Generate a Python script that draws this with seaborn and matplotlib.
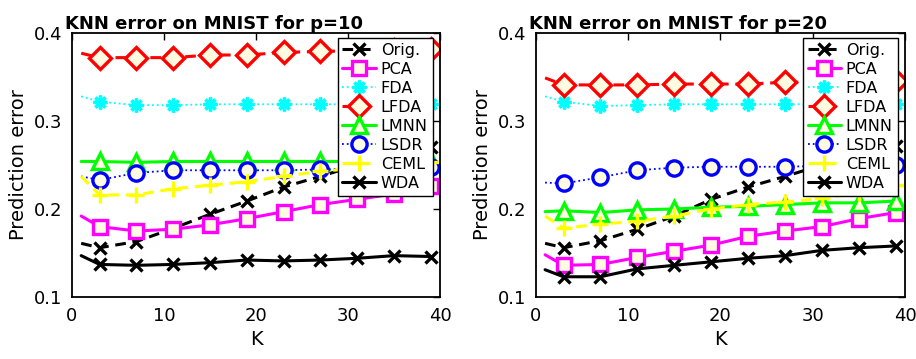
import matplotlib
matplotlib.use("Agg")
import matplotlib.pyplot as plt
import seaborn as sns

# K values (first point has no marker)
K = [1, 3, 7, 11, 15, 19, 23, 27, 31, 35, 39]

# p = 10
orig_10 = [0.161, 0.156, 0.163, 0.178, 0.194, 0.209, 0.225, 0.237, 0.250, 0.260, 0.270]
pca_10  = [0.192, 0.180, 0.175, 0.177, 0.182, 0.189, 0.197, 0.205, 0.211, 0.217, 0.226]
fda_10  = [0.328, 0.322, 0.318, 0.318, 0.319, 0.319, 0.319, 0.319, 0.319, 0.319, 0.319]
lfda_10 = [0.377, 0.372, 0.372, 0.372, 0.375, 0.375, 0.378, 0.379, 0.380, 0.381, 0.382]
lmnn_10 = [0.254, 0.254, 0.253, 0.254, 0.254, 0.254, 0.254, 0.254, 0.254, 0.254, 0.254]
lsdr_10 = [0.237, 0.233, 0.241, 0.244, 0.244, 0.244, 0.244, 0.245, 0.246, 0.247, 0.248]
ceml_10 = [0.237, 0.216, 0.216, 0.223, 0.227, 0.231, 0.237, 0.243, 0.246, 0.250, 0.253]
wda_10  = [0.147, 0.137, 0.136, 0.137, 0.139, 0.142, 0.141, 0.142, 0.144, 0.147, 0.146]

# p = 20
orig_20 = [0.161, 0.156, 0.164, 0.177, 0.192, 0.211, 0.225, 0.237, 0.250, 0.262, 0.272]
pca_20  = [0.148, 0.136, 0.137, 0.145, 0.152, 0.159, 0.169, 0.175, 0.180, 0.189, 0.196]
fda_20  = [0.328, 0.322, 0.317, 0.318, 0.319, 0.319, 0.319, 0.319, 0.319, 0.319, 0.319]
lfda_20 = [0.349, 0.341, 0.341, 0.341, 0.342, 0.342, 0.342, 0.344, 0.344, 0.344, 0.345]
lmnn_20 = [0.197, 0.198, 0.196, 0.199, 0.200, 0.202, 0.203, 0.205, 0.207, 0.207, 0.209]
lsdr_20 = [0.230, 0.229, 0.236, 0.244, 0.247, 0.248, 0.248, 0.248, 0.249, 0.250, 0.250]
ceml_20 = [0.192, 0.178, 0.183, 0.186, 0.192, 0.200, 0.205, 0.208, 0.212, 0.218, 0.227]
wda_20  = [0.131, 0.123, 0.123, 0.132, 0.136, 0.140, 0.144, 0.147, 0.153, 0.156, 0.158]

methods = ["Orig.", "PCA", "FDA", "LFDA", "LMNN", "LSDR", "CEML", "WDA"]
colors = ["#000000", "#FF00FF", "#00FFFF", "#FF0000", "#00FF00", "#0000FF", "#FFFF00", "#000000"]
markers = ["x", "s", (8, 2, 0), "D", "^", "o", "+", "x"]
styles = ["--", "-", ":", "--", "-", ":", "--", "-"]
msizes = [8, 10, 10, 11, 11, 11, 11, 8]

panels = [
    ("KNN error on MNIST for p=10",
     [orig_10, pca_10, fda_10, lfda_10, lmnn_10, lsdr_10, ceml_10, wda_10]),
    ("KNN error on MNIST for p=20",
     [orig_20, pca_20, fda_20, lfda_20, lmnn_20, lsdr_20, ceml_20, wda_20]),
]

sns.set_style("white")
plt.rcParams["font.family"] = ["DejaVu Sans"]
plt.rcParams["text.color"] = "black"
plt.rcParams["axes.labelcolor"] = "black"
plt.rcParams["xtick.color"] = "black"
plt.rcParams["ytick.color"] = "black"

fig = plt.figure(figsize=(9.16, 3.59), dpi=100)
axes = [fig.add_axes([0.0786, 0.1727, 0.4017, 0.7354]),
        fig.add_axes([0.585, 0.1727, 0.403, 0.7354])]

for ax, (title, series) in zip(axes, panels):
    for name, vals, c, m, ls, ms in zip(methods, series, colors, markers, styles, msizes):
        face = c if m in ("x", "+", (8, 2, 0)) else "#FFFBE0"
        lw = 1.3 if ls == ":" else 2.2
        dash = (3.5, 2.2) if ls == "--" else None
        kws = dict(dashes=dash) if dash else dict(linestyle=ls)
        sns.lineplot(x=K, y=vals, ax=ax, color=c, marker=m,
                     linewidth=lw, markersize=ms, markeredgewidth=2.4,
                     markerfacecolor=face, markeredgecolor=c,
                     markevery=slice(1, None), label=name, **kws)
    ax.set_xlim(0, 40)
    ax.set_ylim(0.1, 0.4)
    ax.set_xticks([0, 10, 20, 30, 40])
    ax.set_yticks([0.1, 0.2, 0.3, 0.4])
    ax.set_yticklabels(["0.1", "0.2", "0.3", "0.4"])
    ax.tick_params(direction="in", top=True, right=True, labelsize=13,
                   length=5, width=1, pad=7)
    for sp in ax.spines.values():
        sp.set_color("black")
        sp.set_linewidth(1.3)
    ax.set_xlabel("K", fontsize=14)
    ax.set_ylabel("Prediction error", fontsize=14)
    ax.set_title(title, fontsize=13, fontweight="bold", x=0.385, pad=3)
    leg = ax.legend(loc="upper right", bbox_to_anchor=(0.98, 0.98),
                    fontsize=11.5, labelspacing=0.25, handlelength=2.1,
                    handletextpad=0.3, borderpad=0.3, borderaxespad=0.0,
                    fancybox=False, framealpha=1, edgecolor="black")
    leg.get_frame().set_linewidth(1.0)

fig.savefig("out.png", dpi=100)
